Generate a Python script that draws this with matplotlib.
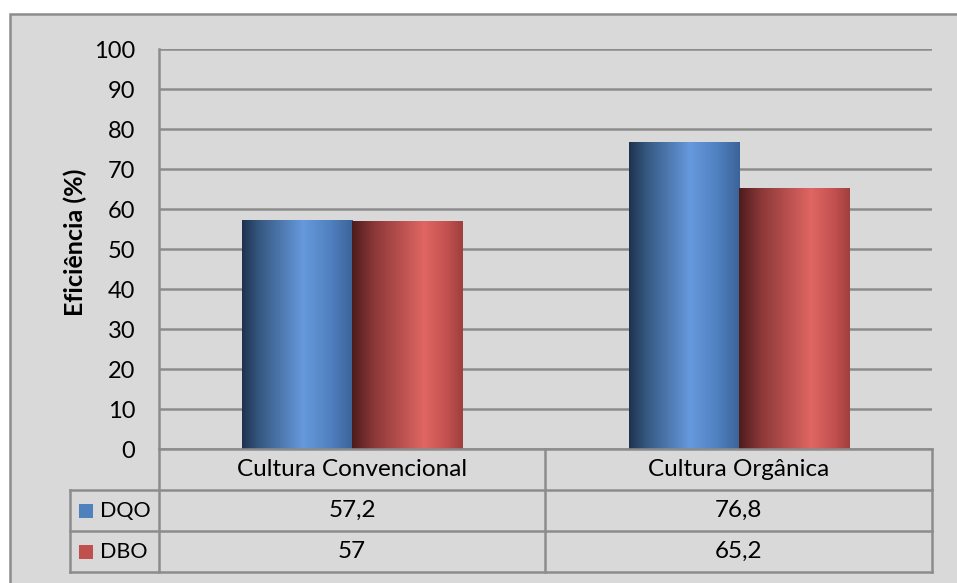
import numpy as np
import matplotlib.pyplot as plt
from matplotlib.colors import LinearSegmentedColormap
from matplotlib.patches import Rectangle

# Dados de eficiência de remoção
categorias = ['Cultura Convencional', 'Cultura Orgânica']
series = ['DQO', 'DBO']
dqo = [57.2, 76.8]
dbo = [57, 65.2]
rotulos_dqo = ['57,2', '76,8']
rotulos_dbo = ['57', '65,2']
yticks = [0, 10, 20, 30, 40, 50, 60, 70, 80, 90, 100]

plt.rcParams['font.family'] = ['Lato', 'DejaVu Sans']

cinza = '#d9d9d9'
linha = '#8c8c8c'

# degradês estilo "cilindro" das barras
grad_azul = LinearSegmentedColormap.from_list('azul', [
    (0.0, '#1e3250'), (0.15, '#35577f'), (0.55, '#6699dd'),
    (0.8, '#5080bf'), (1.0, '#3a6398')])
grad_verm = LinearSegmentedColormap.from_list('verm', [
    (0.0, '#4e1c1c'), (0.2, '#8c3838'), (0.65, '#df6663'),
    (0.85, '#c45250'), (1.0, '#a03f3f')])
cores_leg = ['#4f81bd', '#c0504d']

fig = plt.figure(figsize=(9.57, 5.83), dpi=100, facecolor='white')

# fundo cinza da área do gráfico
fig.patches.append(Rectangle((10 / 957, -0.05), 1.0, 1 - 14 / 583 + 0.05,
                             transform=fig.transFigure, facecolor=cinza,
                             edgecolor=linha, linewidth=1.8, zorder=-10))

ax = fig.add_axes([159 / 957, 1 - 449 / 583, 773 / 957, 400 / 583])
ax.set_facecolor(cinza)

x = np.arange(len(categorias))
larg = 0.285
barras_dqo = ax.bar(x - larg / 2, dqo, larg, zorder=3)
barras_dbo = ax.bar(x + larg / 2, dbo, larg, zorder=3)

gradiente = np.linspace(0, 1, 256).reshape(1, -1)
for barras, cmap in [(barras_dqo, grad_azul), (barras_dbo, grad_verm)]:
    for b in barras:
        x0, y0 = b.get_x(), b.get_y()
        w, h = b.get_width(), b.get_height()
        img = ax.imshow(gradiente, cmap=cmap, aspect='auto',
                        extent=(x0, x0 + w, y0, y0 + h), zorder=3,
                        interpolation='bilinear')
        img.set_clip_path(b)
        b.set_facecolor('none')
        b.set_edgecolor('#9a9a9a')
        b.set_linewidth(0.4)

ax.set_xlim(-0.5, 1.5)
ax.set_ylim(0, 100)
ax.set_yticks(yticks)
ax.set_yticklabels([str(v) for v in yticks], fontsize=17)
ax.tick_params(axis='y', length=0, pad=17)
ax.set_xticks([])
ax.yaxis.grid(True, color=linha, linewidth=1.8, zorder=1)
ax.set_axisbelow(True)
for lado in ['top', 'right', 'bottom']:
    ax.spines[lado].set_visible(False)
ax.spines['left'].set_color(linha)
ax.spines['left'].set_linewidth(1.8)

ax.set_ylabel('Eficiência (%)', fontsize=18, fontweight='bold')
ax.yaxis.set_label_coords(-84 / 773, 207 / 400)
ax.yaxis.label.set_va('center')

# tabela de dados abaixo do eixo
t = ax.transAxes
xl, xm, xr = -89 / 773, 386 / 773, 1.0
yh, y1, y2, y3 = 0.0, -41 / 400, -82 / 400, -123 / 400
kw = dict(color=linha, linewidth=1.8, transform=t, clip_on=False, zorder=4)
ax.plot([0, xr], [yh, yh], **kw)
for yy in (y1, y2, y3):
    ax.plot([xl, xr], [yy, yy], **kw)
for xx in (0, xm, xr):
    ax.plot([xx, xx], [yh, y3], **kw)
ax.plot([xl, xl], [y1, y3], **kw)

fs_tab = 17.5
centros = [xm / 2, (xm + xr) / 2]
for c, cat in zip(centros, categorias):
    ax.text(c, (yh + y1) / 2, cat, transform=t, ha='center', va='center',
            fontsize=fs_tab)
for linha_y, rotulos in [((y1 + y2) / 2, rotulos_dqo), ((y2 + y3) / 2, rotulos_dbo)]:
    for c, r in zip(centros, rotulos):
        ax.text(c, linha_y, r, transform=t, ha='center', va='center',
                fontsize=fs_tab)

# chaves da legenda na primeira coluna da tabela
for yy, nome, cor in zip([(y1 + y2) / 2, (y2 + y3) / 2], series, cores_leg):
    ax.add_patch(Rectangle((-80 / 773, yy - 7 / 400), 14 / 773, 14 / 400,
                           transform=t, facecolor=cor, edgecolor='none',
                           clip_on=False))
    ax.text(-59 / 773, yy, nome, transform=t, ha='left', va='center',
            fontsize=15.5)

fig.savefig('out.png', dpi=100, facecolor='white')
